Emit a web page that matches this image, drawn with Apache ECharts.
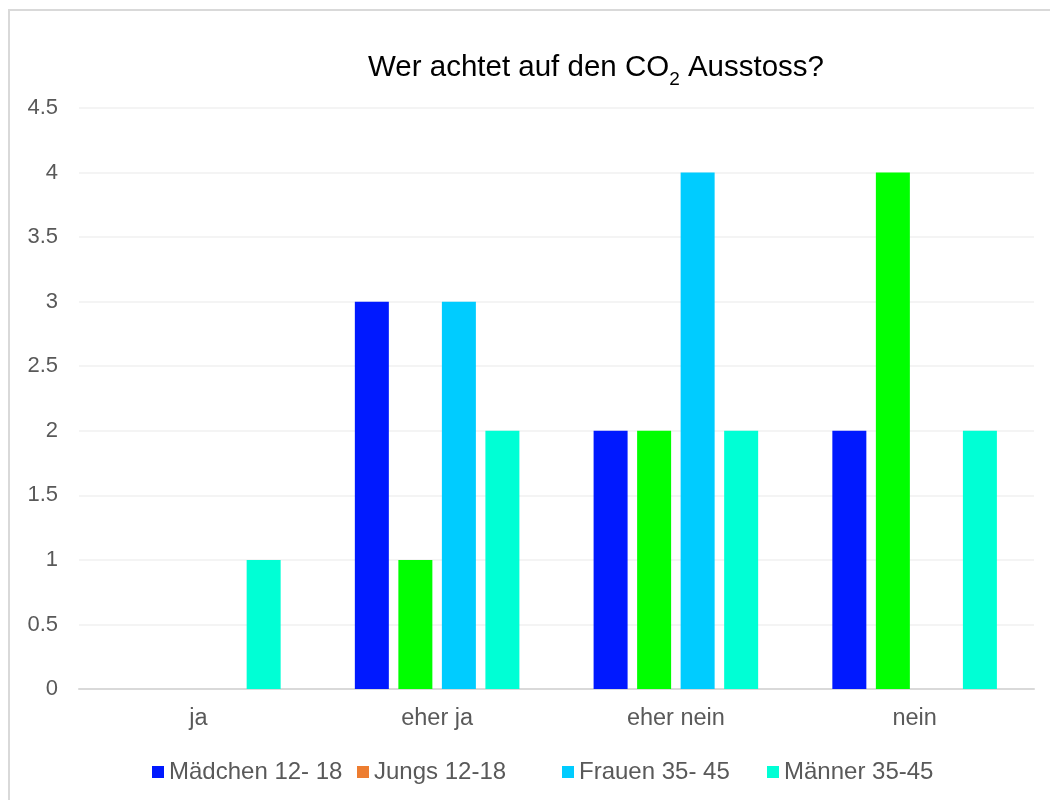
<!DOCTYPE html>
<html>
<head>
<meta charset="utf-8">
<script src="https://cdn.jsdelivr.net/npm/echarts@6/dist/echarts.min.js"></script>
<style>
  html, body { margin: 0; padding: 0; background: #fff; }
  #chart { width: 1050px; height: 800px; }
</style>
</head>
<body>
<div id="chart"></div>
<script>
// data
const categories = ['ja', 'eher ja', 'eher nein', 'nein'];
const seriesNames = ['Mädchen 12- 18', 'Jungs 12-18', 'Frauen 35- 45', 'Männer 35-45'];
const maedchen = [0, 3, 2, 2];
const jungs = [0, 1, 2, 4];
const frauen = [0, 3, 4, 0];
const maenner = [1, 2, 2, 2];
const yTicks = [0, 0.5, 1, 1.5, 2, 2.5, 3, 3.5, 4, 4.5];

// legend colour vs. bar colour (Jungs bars are green, legend swatch orange)
const legendColors = ['#0019FF', '#ED7D31', '#00CCFF', '#00FFD5'];
const barColors = ['#0019FF', '#00FF00', '#00CCFF', '#00FFD5'];

const values = [maedchen, jungs, frauen, maenner];

let chart = echarts.init(document.getElementById('chart'));

let series = values.map(function (vals, i) {
    return {
        name: seriesNames[i],
        type: 'bar',
        barWidth: 34,
        barGap: '28%',
        itemStyle: { color: legendColors[i] },
        data: vals.map(function (v) {
            return { value: v, itemStyle: { color: barColors[i] } };
        })
    };
});

// excel spaces legend entries evenly, so one legend per entry
let legends = seriesNames.map(function (name, i) {
    return {
        data: [name],
        bottom: 11,
        left: 147 + i * 205,
        itemWidth: 12,
        itemHeight: 12,
        icon: 'rect',
        textStyle: { fontSize: 24, color: '#595959', fontFamily: 'Liberation Sans' }
    };
});

chart.setOption({
    animation: false,
    textStyle: { fontFamily: 'Liberation Sans, Arial, sans-serif' },
    graphic: [{
        type: 'rect',
        shape: { x: 9, y: 10, width: 1060, height: 820 },
        style: { fill: 'none', stroke: '#D9D9D9', lineWidth: 2 },
        silent: true
    }],
    title: {
        text: '{a|Wer achtet auf den CO}{s|2}{a| Ausstoss?}',
        left: 591,
        top: 44,
        textAlign: 'center',
        textStyle: {
            rich: {
                a: { fontSize: 29.5, color: '#000000', fontWeight: 'normal', fontFamily: 'Liberation Sans', lineHeight: 34, verticalAlign: 'bottom' },
                s: { fontSize: 19, color: '#000000', fontWeight: 'normal', fontFamily: 'Liberation Sans', lineHeight: 34, verticalAlign: 'bottom', padding: [0, 0, -6, 0] }
            }
        }
    },
    legend: legends,
    grid: {
        left: 79,
        right: 16,
        top: 108,
        bottom: 111,
        containLabel: false
    },
    xAxis: {
        type: 'category',
        data: categories,
        axisTick: { show: false },
        axisLine: { lineStyle: { color: '#D9D9D9', width: 2 } },
        axisLabel: { fontSize: 23.5, color: '#595959', margin: 18, fontFamily: 'Liberation Sans' }
    },
    yAxis: {
        type: 'value',
        min: yTicks[0],
        max: yTicks[yTicks.length - 1],
        interval: 0.5,
        axisLine: { show: false },
        axisTick: { show: false },
        axisLabel: { fontSize: 22, color: '#595959', margin: 21, fontFamily: 'Liberation Sans' },
        splitLine: { lineStyle: { color: '#F0F0F0', width: 1.5 } }
    },
    series: series
});
</script>
</body>
</html>
